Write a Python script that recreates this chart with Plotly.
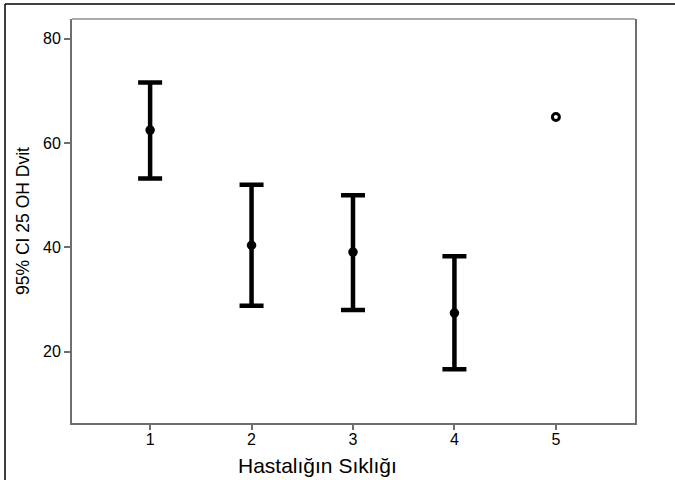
import plotly.graph_objects as go

groups = [1, 2, 3, 4]
means = [62.5, 40.4, 39.1, 27.4]
upper = [71.6, 52.0, 50.0, 38.3]
lower = [53.2, 28.8, 28.0, 16.6]
single_x = [5]
single_y = [65.0]

x_ticks = [1, 2, 3, 4, 5]
y_ticks = [20, 40, 60, 80]

err_plus = [u - m for u, m in zip(upper, means)]
err_minus = [m - l for m, l in zip(means, lower)]

fig = go.Figure()
fig.add_trace(go.Scatter(
    x=groups, y=means, mode="markers",
    marker=dict(color="black", size=9.5),
    error_y=dict(type="data", symmetric=False, array=err_plus, arrayminus=err_minus,
                 color="black", thickness=4.5, width=12),
    showlegend=False,
))
fig.add_trace(go.Scatter(
    x=single_x, y=single_y, mode="markers",
    marker=dict(color="white", size=7, symbol="circle", line=dict(color="black", width=3)),
    showlegend=False,
))

W, H = 675, 480
ml, mr, mt, mb = 72, 40, 19, 57
pw, ph = W - ml - mr, H - mt - mb

def px(x):
    return (x - ml) / pw

def py(y):
    return (H - mb - y) / ph

fig.update_layout(
    width=W, height=H,
    margin=dict(l=ml, r=mr, t=mt, b=mb, autoexpand=False),
    paper_bgcolor="white", plot_bgcolor="white",
    font=dict(family="Liberation Sans, Arial, sans-serif", color="black"),
    xaxis=dict(
        range=[0.23, 5.78], tickvals=x_ticks, ticktext=[str(v) for v in x_ticks],
        showgrid=False, zeroline=False, showline=True, linecolor="#6e6e6e", linewidth=2,
        ticks="outside", ticklen=5, tickcolor="#6e6e6e", tickwidth=2,
        tickfont=dict(size=16), automargin=False, ticklabelstandoff=-4,
    ),
    yaxis=dict(
        range=[6.3, 83.8], tickvals=y_ticks,
        showgrid=False, zeroline=False, showline=True, linecolor="#6e6e6e", linewidth=2,
        mirror=True, automargin=False,
        ticks="outside", ticklen=6, tickcolor="#6e6e6e", tickwidth=2,
        tickfont=dict(size=16),
        title=dict(text="95% CI 25 OH Dvit", font=dict(size=17.5), standoff=9),
    ),
    annotations=[
        dict(text="Hastalığın Sıklığı", xref="paper", yref="paper",
             x=px(317), y=py(465), xanchor="center", yanchor="middle",
             showarrow=False, font=dict(size=21)),
    ],
    shapes=[
        dict(type="line", xref="paper", yref="paper", x0=0, x1=1, y0=1, y1=1,
             line=dict(color="#aaaaaa", width=2)),
        dict(type="line", xref="paper", yref="paper", x0=px(5), x1=px(5), y0=py(4), y1=py(482),
             line=dict(color="black", width=1.5)),
        dict(type="line", xref="paper", yref="paper", x0=px(5), x1=px(677), y0=py(4), y1=py(4),
             line=dict(color="black", width=1.5)),
    ],
)

fig.write_html("out.html", config={"displayModeBar": False},
               post_script="document.body.style.margin='0';document.body.style.overflow='hidden';")
